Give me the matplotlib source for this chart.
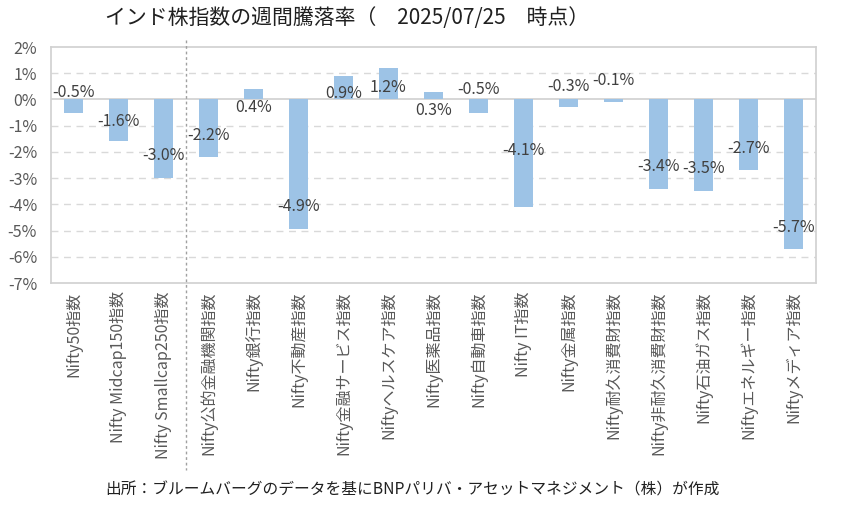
import matplotlib

matplotlib.use("Agg")
import matplotlib.pyplot as plt
import numpy as np

plt.rcParams["font.family"] = ["Noto Sans CJK JP", "DejaVu Sans"]

categories = [
    "Nifty50指数", "Nifty Midcap150指数", "Nifty Smallcap250指数",
    "Nifty公的金融機関指数", "Nifty銀行指数", "Nifty不動産指数",
    "Nifty金融サービス指数", "Niftyヘルスケア指数", "Nifty医薬品指数",
    "Nifty自動車指数", "Nifty IT指数", "Nifty金属指数",
    "Nifty耐久消費財指数", "Nifty非耐久消費財指数", "Nifty石油ガス指数",
    "Niftyエネルギー指数", "Niftyメディア指数",
]
returns = [-0.5, -1.6, -3.0, -2.2, 0.4, -4.94, 0.9, 1.2, 0.3, -0.5,
           -4.1, -0.3, -0.1, -3.4, -3.5, -2.7, -5.7]
# label y positions (in %), placed by hand as in the source chart
label_y = [0.27, -0.84, -2.13, -1.37, -0.30, -4.1, 0.23, 0.46, -0.42, 0.38,
           -1.94, 0.49, 0.72, -2.55, -2.62, -1.86, -4.9]
yticks = list(range(2, -8, -1))

fig = plt.figure(figsize=(8.53, 5.21), dpi=100)
ax = fig.add_axes([51 / 853, 1 - 283 / 521, 765 / 853, 236 / 521])

x = np.arange(len(categories))
ax.bar(x, returns, width=0.42, color="#9DC3E6", zorder=3)
for xi, v, ly in zip(x, returns, label_y):
    ax.text(xi, ly, f"{v:.1f}%", ha="center", va="center", fontsize=11.5,
            color="#404040", zorder=4)

ax.set_xlim(-0.5, len(categories) - 0.5)
ax.set_ylim(-7, 2)
ax.set_yticks(yticks)
ax.set_yticklabels([f"{t}%" for t in yticks], fontsize=11.5, color="#595959")
ax.tick_params(axis="y", length=0, pad=10)
ax.set_xticks(x)
ax.set_xticklabels(categories, rotation=90, fontsize=11.5, color="#595959",
                   va="top")
ax.tick_params(axis="x", length=0, pad=6)

for t in yticks:
    if t == 0:
        ax.axhline(0, color="#D0D0D0", linewidth=1.2, zorder=2)
    elif t not in (2, -7):
        ax.axhline(t, color="#D9D9D9", linewidth=1, linestyle=(0, (5, 4)),
                   zorder=1)
for s in ax.spines.values():
    s.set_color("#D0D0D0")
    s.set_linewidth(1.2)

# dotted separator between broad indices and sector indices
fig.add_artist(plt.Line2D([186 / 853, 186 / 853], [1 - 40 / 521, 1 - 470 / 521],
                          color="#A0A0A0", linewidth=1, linestyle=(0, (2, 2))))

fig.text(105 / 853, 1 - 18 / 521,
         "インド株指数の週間騰落率（　2025/07/25　時点）",
         fontsize=15, ha="left", va="center", color="#202020")
fig.text(105 / 853, 1 - 490 / 521,
         "出所：ブルームバーグのデータを基にBNPパリバ・アセットマネジメント（株）が作成",
         fontsize=11.3, ha="left", va="center", color="#202020")

fig.savefig("out.png", dpi=100)
plt.close(fig)
